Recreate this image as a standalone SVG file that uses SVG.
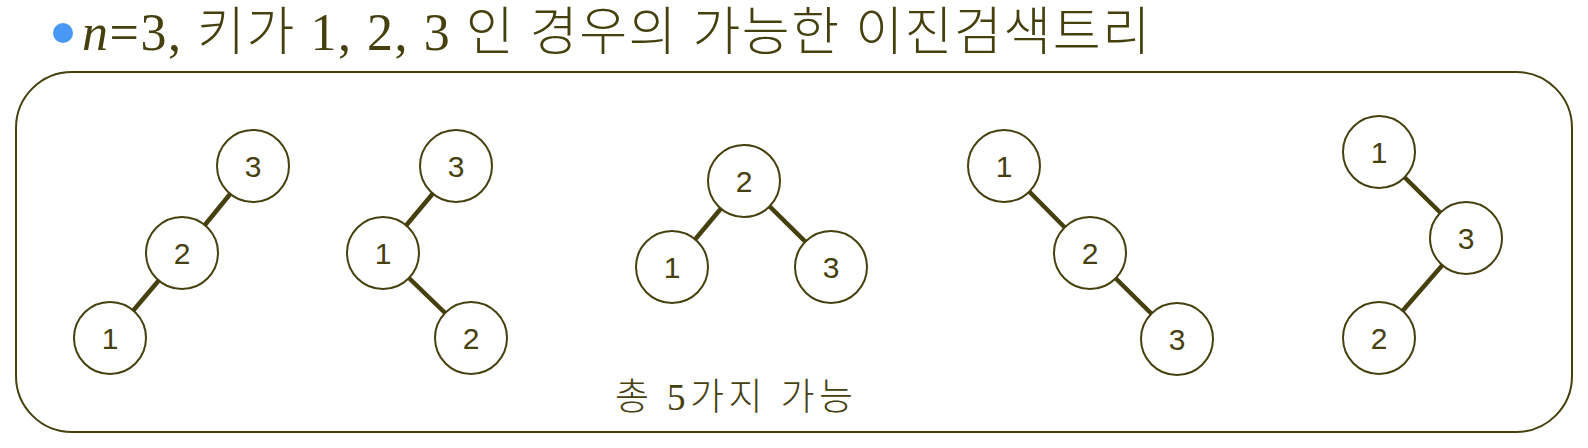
<svg xmlns="http://www.w3.org/2000/svg" width="1588" height="448" viewBox="0 0 1588 448">
  <style>
    .t { font-family: "Liberation Serif", "Noto Sans CJK KR", serif; fill: #46400f; font-weight: 300; }
    .node circle { fill: #ffffff; stroke: #46400f; stroke-width: 2; }
    .node text { font-family: "Liberation Sans", Arial, sans-serif; font-size: 30px; fill: #46400f; text-anchor: middle; dominant-baseline: central; }
    .edges line { stroke: #46400f; stroke-width: 4.5; }
  </style>
  <rect width="1588" height="448" fill="#ffffff"/>
  <circle cx="63" cy="33" r="10" fill="#4a98f5"/>
  <text class="t" x="82" y="50" font-size="52" textLength="1068" lengthAdjust="spacing"><tspan font-style="italic">n</tspan>=3, 키가 1, 2, 3 인 경우의 가능한 이진검색트리</text>
  <rect x="16" y="72" width="1556" height="360" rx="56" ry="56" fill="none" stroke="#46400f" stroke-width="2"/>
  <g id="edges" class="edges">
    <line x1="253" y1="166" x2="182" y2="253"/>
    <line x1="182" y1="253" x2="110" y2="338"/>
    <line x1="456" y1="166" x2="383" y2="253"/>
    <line x1="383" y1="253" x2="471" y2="338"/>
    <line x1="744" y1="181" x2="672" y2="267"/>
    <line x1="744" y1="181" x2="831" y2="267"/>
    <line x1="1004" y1="166" x2="1090" y2="253"/>
    <line x1="1090" y1="253" x2="1177" y2="339"/>
    <line x1="1379" y1="152" x2="1466" y2="238"/>
    <line x1="1466" y1="238" x2="1379" y2="338"/>
  </g>
  <g id="t1n3" class="node"><circle cx="253" cy="166" r="36"/><text x="253" y="166">3</text></g>
  <g id="t1n2" class="node"><circle cx="182" cy="253" r="36"/><text x="182" y="253">2</text></g>
  <g id="t1n1" class="node"><circle cx="110" cy="338" r="36"/><text x="110" y="338">1</text></g>
  <g id="t2n3" class="node"><circle cx="456" cy="166" r="36"/><text x="456" y="166">3</text></g>
  <g id="t2n1" class="node"><circle cx="383" cy="253" r="36"/><text x="383" y="253">1</text></g>
  <g id="t2n2" class="node"><circle cx="471" cy="338" r="36"/><text x="471" y="338">2</text></g>
  <g id="t3n2" class="node"><circle cx="744" cy="181" r="36"/><text x="744" y="181">2</text></g>
  <g id="t3n1" class="node"><circle cx="672" cy="267" r="36"/><text x="672" y="267">1</text></g>
  <g id="t3n3" class="node"><circle cx="831" cy="267" r="36"/><text x="831" y="267">3</text></g>
  <g id="t4n1" class="node"><circle cx="1004" cy="166" r="36"/><text x="1004" y="166">1</text></g>
  <g id="t4n2" class="node"><circle cx="1090" cy="253" r="36"/><text x="1090" y="253">2</text></g>
  <g id="t4n3" class="node"><circle cx="1177" cy="339" r="36"/><text x="1177" y="339">3</text></g>
  <g id="t5n1" class="node"><circle cx="1379" cy="152" r="36"/><text x="1379" y="152">1</text></g>
  <g id="t5n3" class="node"><circle cx="1466" cy="238" r="36"/><text x="1466" y="238">3</text></g>
  <g id="t5n2" class="node"><circle cx="1379" cy="338" r="36"/><text x="1379" y="338">2</text></g>
  <text class="t" x="615" y="410" font-size="37" textLength="238" lengthAdjust="spacing">총 5가지 가능</text>
</svg>
